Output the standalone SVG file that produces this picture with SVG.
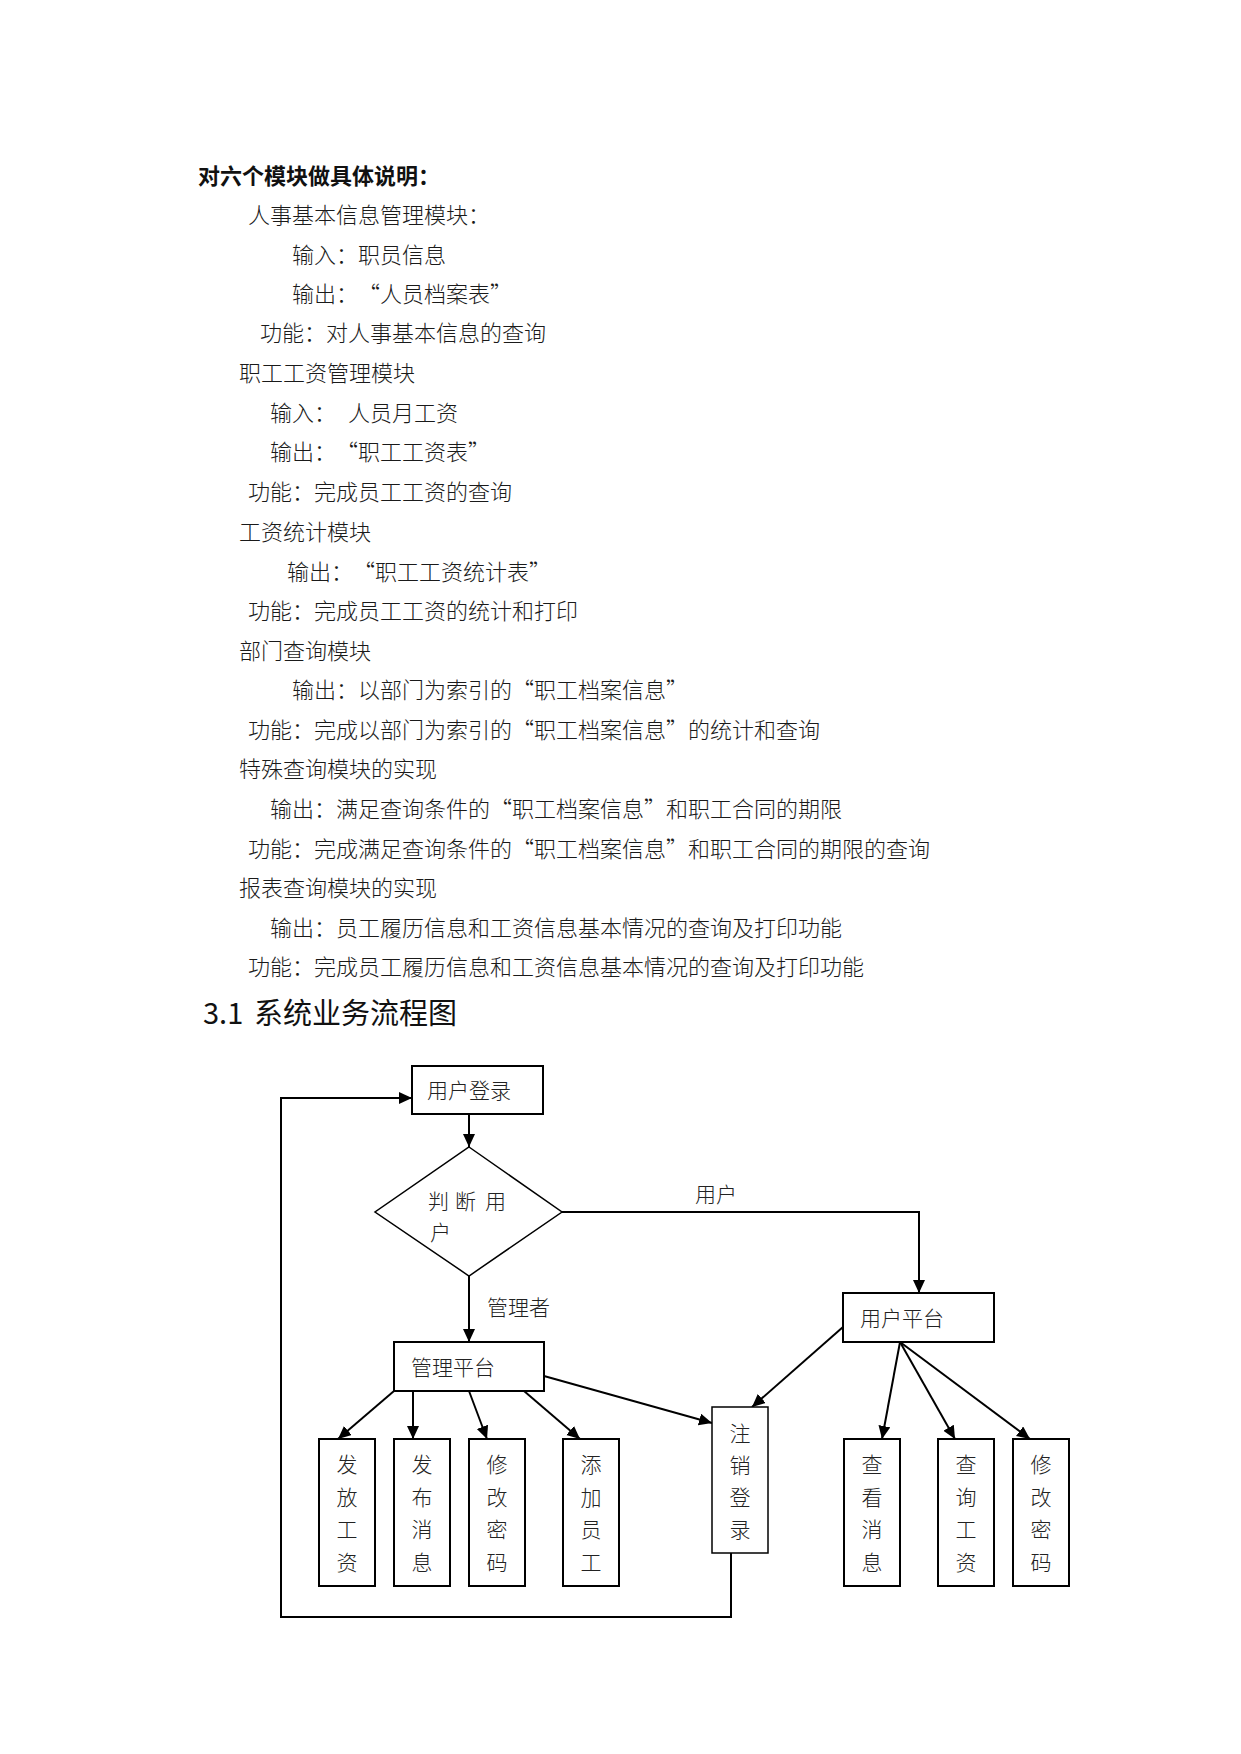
<svg xmlns="http://www.w3.org/2000/svg" width="1241" height="1754" viewBox="0 0 1241 1754">
<style>
text{font-family:"Noto Sans CJK SC","Liberation Sans",sans-serif;fill:#111;text-spacing-trim:space-all;}
.b{font-size:22px;font-weight:300;fill:#1a1a1a;}
.h{font-size:22px;font-weight:bold;}
.t{font-size:29px;}
.n{font-size:21px;fill:#222;font-weight:300;}
.v{font-size:21px;fill:#222;font-weight:300;text-anchor:middle;}
.box{fill:#fff;stroke:#000;stroke-width:2;}
.thin{fill:#fff;stroke:#000;stroke-width:1.5;}
.c{fill:none;stroke:#000;stroke-width:2;}
</style>
<defs>
<marker id="arr" markerUnits="userSpaceOnUse" markerWidth="14" markerHeight="13" refX="13" refY="6" orient="auto">
<path d="M0,0 L13,6 L0,12 Z" fill="#000"/>
</marker>
</defs>
<rect width="1241" height="1754" fill="#fff"/>
<g id="body-text">
<text class="h" x="198" y="184">对六个模块做具体说明：</text>
<text class="b" x="248" y="223">人事基本信息管理模块：</text>
<text class="b" x="292" y="263">输入：职员信息</text>
<text class="b" x="292" y="302">输出：<tspan x="358">“人员档案表”</tspan></text>
<text class="b" x="260" y="341">功能：对人事基本信息的查询</text>
<text class="b" x="239" y="381">职工工资管理模块</text>
<text class="b" x="270" y="421">输入：<tspan x="348">人员月工资</tspan></text>
<text class="b" x="270" y="460">输出：<tspan x="336">“职工工资表”</tspan></text>
<text class="b" x="248" y="500">功能：完成员工工资的查询</text>
<text class="b" x="239" y="540">工资统计模块</text>
<text class="b" x="287" y="580">输出：<tspan x="353">“职工工资统计表”</tspan></text>
<text class="b" x="248" y="619">功能：完成员工工资的统计和打印</text>
<text class="b" x="239" y="659">部门查询模块</text>
<text class="b" x="292" y="698">输出：以部门为索引的“职工档案信息”</text>
<text class="b" x="248" y="738">功能：完成以部门为索引的“职工档案信息”的统计和查询</text>
<text class="b" x="239" y="777">特殊查询模块的实现</text>
<text class="b" x="270" y="817">输出：满足查询条件的“职工档案信息”和职工合同的期限</text>
<text class="b" x="248" y="857">功能：完成满足查询条件的“职工档案信息”和职工合同的期限的查询</text>
<text class="b" x="239" y="896">报表查询模块的实现</text>
<text class="b" x="270" y="936">输出：员工履历信息和工资信息基本情况的查询及打印功能</text>
<text class="b" x="248" y="975">功能：完成员工履历信息和工资信息基本情况的查询及打印功能</text>
<text class="t" x="203" y="1024">3.1<tspan x="254">系统业务流程图</tspan></text>
</g>
<g id="connectors">
<path class="c" d="M469,1114 V1147" marker-end="url(#arr)"/>
<path class="c" d="M562,1212 H919 V1293" marker-end="url(#arr)"/>
<path class="c" d="M469,1276 V1342" marker-end="url(#arr)"/>
<path class="c" d="M394,1391 L338,1439" marker-end="url(#arr)"/>
<path class="c" d="M413,1391 V1439" stroke-width="3" marker-end="url(#arr)"/>
<path class="c" d="M469,1391 L487,1439" marker-end="url(#arr)"/>
<path class="c" d="M524,1391 L580,1439" marker-end="url(#arr)"/>
<path class="c" d="M544,1376 L712,1423" marker-end="url(#arr)"/>
<path class="c" d="M843,1327 L752,1407" marker-end="url(#arr)"/>
<path class="c" d="M900,1342 L882,1439" marker-end="url(#arr)"/>
<path class="c" d="M900,1342 L955,1439" marker-end="url(#arr)"/>
<path class="c" d="M900,1342 L1030,1439" marker-end="url(#arr)"/>
<path class="c" d="M731,1553 V1617 H281 V1098 H412" marker-end="url(#arr)"/>
<text class="n" x="695" y="1202">用户</text>
<text class="n" x="487" y="1315">管理者</text>
</g>
<g id="node-login">
<rect class="box" x="412" y="1066" width="131" height="48"/>
<text class="n" x="427" y="1098">用户登录</text>
</g>
<g id="node-judge">
<polygon class="thin" points="469,1147 562,1212 469,1276 375,1212"/>
<text class="n" y="1209"><tspan x="428">判</tspan><tspan x="455">断</tspan><tspan x="485">用</tspan></text>
<text class="n" x="430" y="1240">户</text>
</g>
<g id="node-user-platform">
<rect class="box" x="843" y="1293" width="151" height="49"/>
<text class="n" x="860" y="1326">用户平台</text>
</g>
<g id="node-admin-platform">
<rect class="box" x="394" y="1342" width="150" height="49"/>
<text class="n" x="411" y="1375">管理平台</text>
</g>
<g id="node-pay">
<rect class="box" x="319" y="1439" width="56" height="147"/>
<text class="v" x="347" y="1472">发</text><text class="v" x="347" y="1504.5">放</text><text class="v" x="347" y="1537">工</text><text class="v" x="347" y="1569.5">资</text>
</g>
<g id="node-publish">
<rect class="box" x="394" y="1439" width="56" height="147"/>
<text class="v" x="422" y="1472">发</text><text class="v" x="422" y="1504.5">布</text><text class="v" x="422" y="1537">消</text><text class="v" x="422" y="1569.5">息</text>
</g>
<g id="node-admin-pwd">
<rect class="box" x="469" y="1439" width="56" height="147"/>
<text class="v" x="497" y="1472">修</text><text class="v" x="497" y="1504.5">改</text><text class="v" x="497" y="1537">密</text><text class="v" x="497" y="1569.5">码</text>
</g>
<g id="node-add">
<rect class="box" x="563" y="1439" width="56" height="147"/>
<text class="v" x="591" y="1472">添</text><text class="v" x="591" y="1504.5">加</text><text class="v" x="591" y="1537">员</text><text class="v" x="591" y="1569.5">工</text>
</g>
<g id="node-logout">
<rect class="thin" x="712" y="1407" width="56" height="146"/>
<text class="v" x="740" y="1441">注</text><text class="v" x="740" y="1473">销</text><text class="v" x="740" y="1505">登</text><text class="v" x="740" y="1537">录</text>
</g>
<g id="node-view-msg">
<rect class="box" x="844" y="1439" width="56" height="147"/>
<text class="v" x="872" y="1472">查</text><text class="v" x="872" y="1504.5">看</text><text class="v" x="872" y="1537">消</text><text class="v" x="872" y="1569.5">息</text>
</g>
<g id="node-query-pay">
<rect class="box" x="938" y="1439" width="56" height="147"/>
<text class="v" x="966" y="1472">查</text><text class="v" x="966" y="1504.5">询</text><text class="v" x="966" y="1537">工</text><text class="v" x="966" y="1569.5">资</text>
</g>
<g id="node-user-pwd">
<rect class="box" x="1013" y="1439" width="56" height="147"/>
<text class="v" x="1041" y="1472">修</text><text class="v" x="1041" y="1504.5">改</text><text class="v" x="1041" y="1537">密</text><text class="v" x="1041" y="1569.5">码</text>
</g>
</svg>
